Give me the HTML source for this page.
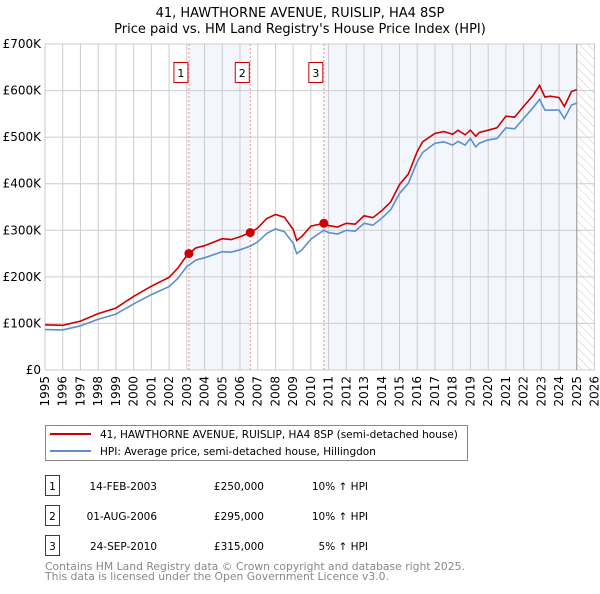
<!DOCTYPE html>
<html><head><meta charset="utf-8"><style>
body{margin:0;background:#fff;font-family:"DejaVu Sans","Liberation Sans",sans-serif;}
svg text{font-family:"DejaVu Sans","Liberation Sans",sans-serif;}
</style></head><body>
<svg id="chart" width="600" height="590" viewBox="0 0 600 590" xmlns="http://www.w3.org/2000/svg">
<defs><pattern id="hatch" width="6" height="6" patternUnits="userSpaceOnUse" patternTransform="rotate(-45)"><line x1="0" y1="0" x2="0" y2="6" stroke="#ccc" stroke-width="1"/></pattern></defs>
<text x="300" y="17" text-anchor="middle" font-size="13">41, HAWTHORNE AVENUE, RUISLIP, HA4 8SP</text>
<text x="300" y="33" text-anchor="middle" font-size="13">Price paid vs. HM Land Registry's House Price Index (HPI)</text>
<g id="plot"></g>
<g>
<rect x="45.5" y="425.5" width="422" height="35" fill="#fff" stroke="#888"/>
<line x1="50" y1="434" x2="91" y2="434" stroke="#cc0000" stroke-width="2"/>
<text x="100" y="438" font-size="10.5">41, HAWTHORNE AVENUE, RUISLIP, HA4 8SP (semi-detached house)</text>
<line x1="50" y1="451" x2="91" y2="451" stroke="#5b8fd0" stroke-width="2"/>
<text x="100" y="455" font-size="10.5">HPI: Average price, semi-detached house, Hillingdon</text>
</g>
<g id="table"></g>
<text x="45" y="570" font-size="10.8" fill="#888">Contains HM Land Registry data © Crown copyright and database right 2025.</text>
<text x="45" y="580" font-size="10.8" fill="#888">This data is licensed under the Open Government Licence v3.0.</text>
</svg>
<script>
const dates=[1995.0,1996,1997,1998,1999,2000,2001,2002,2002.5,2003.0,2003.12,2003.5,2004,2005,2005.5,2006,2006.58,2007,2007.5,2008,2008.5,2009.0,2009.2,2009.5,2010,2010.73,2011,2011.5,2012,2012.5,2013,2013.5,2014,2014.5,2015,2015.5,2016,2016.3,2017,2017.5,2018,2018.3,2018.7,2019,2019.3,2019.5,2020,2020.5,2021,2021.5,2022,2022.5,2022.9,2023.2,2023.5,2024,2024.3,2024.7,2025.0];
const hpi=[87,86,95,109,120,142,162,179,197,222,225,236,241,254,253,258,266,275,293,303,297,272,250,258,281,300,295,292,300,298,315,311,326,344,379,401,447,467,487,490,483,491,483,497,479,487,494,497,520,518,540,562,581,558,558,558,540,569,573];
const price=[97,96,105,121,133,158,180,199,219,246,250,262,267,282,280,286,295,305,325,334,328,302,278,287,309,315,310,307,315,313,331,327,342,361,398,421,469,490,508,512,506,515,505,515,502,510,515,520,545,543,566,588,611,586,588,585,566,598,602];
const saleDates=[2003.12,2006.58,2010.73];
const salePrices=[250,295,315];
const saleLabels=["14-FEB-2003","01-AUG-2006","24-SEP-2010"];
const salePriceText=["£250,000","£295,000","£315,000"];
const saleHpiText=["10% ↑ HPI","10% ↑ HPI","5% ↑ HPI"];
const yTicks=[0,100,200,300,400,500,600,700];
const yTickLabels=["£0","£100K","£200K","£300K","£400K","£500K","£600K","£700K"];
const xYears=[];for(let y=1995;y<=2026;y++)xYears.push(y);
const X0=45,X1=594.5,Y0=370,Y1=44;
const xs=d=>X0+(d-1995)/31*(X1-X0);
const ys=v=>Y0-v/700*(Y0-Y1);
const NS="http://www.w3.org/2000/svg";
const plot=document.getElementById('plot');
function mk(tag,attrs,parent){const e=document.createElementNS(NS,tag);for(const k in attrs)e.setAttribute(k,attrs[k]);(parent||plot).appendChild(e);return e;}
let r=mk('rect',{x:xs(saleDates[0]),y:Y1,width:xs(saleDates[1])-xs(saleDates[0]),height:Y0-Y1,fill:'#f3f6fd'});


r=mk('rect',{x:xs(saleDates[2]),y:Y1,width:xs(2025.0)-xs(saleDates[2]),height:Y0-Y1,fill:'#f3f6fd'});


r=mk('rect',{x:xs(2025.0),y:Y1,width:X1-xs(2025.0),height:Y0-Y1,fill:'url(#hatch)'});


yTicks.forEach((v,i)=>{
 const l=mk('line',{x1:X0,x2:X1,y1:ys(v),y2:ys(v),stroke:'#ccc','stroke-width':1});
 
 
 const t=mk('text',{x:X0-4,y:ys(v)+4,'text-anchor':'end','font-size':'12'});
 t.textContent=yTickLabels[i];
 
 
});
xYears.forEach(y=>{
 const l=mk('line',{x1:xs(y),x2:xs(y),y1:Y1,y2:Y0,stroke:'#ccc','stroke-width':1});
 
 
 const t=mk('text',{x:0,y:0,'text-anchor':'end','font-size':'12',transform:`translate(${xs(y)+4},${Y0+6}) rotate(-90)`});
 t.textContent=y;
 
 
});
let l=mk('line',{x1:xs(2025.0),x2:xs(2025.0),y1:Y1,y2:Y0,stroke:'#999','stroke-width':1});


saleDates.forEach((d,i)=>{
 const v=mk('line',{x1:xs(d),x2:xs(d),y1:Y1,y2:Y0,stroke:'#f59090','stroke-width':1,'stroke-dasharray':'2,2'});
 
 
 const b=mk('rect',{x:xs(d)-15,y:62.5,width:14,height:20,fill:'#fff',stroke:'#cc0000'});
 
 
 const t=mk('text',{x:xs(d)-8,y:77,'text-anchor':'middle','font-size':'11'});
 t.textContent=i+1;
 
 
});
const path=arr=>dates.map((d,i)=>(i?'L':'M')+xs(d).toFixed(1)+','+ys(arr[i]).toFixed(1)).join('');
let p=mk('path',{d:path(hpi),fill:'none',stroke:'#5b8fd0','stroke-width':1.6});


p=mk('path',{d:path(price),fill:'none',stroke:'#cc0000','stroke-width':1.6});


saleDates.forEach((d,i)=>{
 const c=mk('circle',{cx:xs(d),cy:ys(salePrices[i]),r:4.5,fill:'#cc0000'});
 
 
});
const tb=document.getElementById('table');
saleLabels.forEach((s,i)=>{
 const y0=475+i*30;
 const b=mk('rect',{x:45.5,y:y0+0.5,width:14,height:20,fill:'#fff',stroke:'#cc0000'},tb);
 
 
 const vals=[[52.5,'middle',String(i+1)],[157,'end',s],[264,'end',salePriceText[i]],[368,'end',saleHpiText[i]]];
 vals.forEach(v=>{
  const t=mk('text',{x:v[0],y:y0+15,'text-anchor':v[1],'font-size':'10.5'},tb);
  t.textContent=v[2];
  
  
 });
});
</script>
</body></html>
